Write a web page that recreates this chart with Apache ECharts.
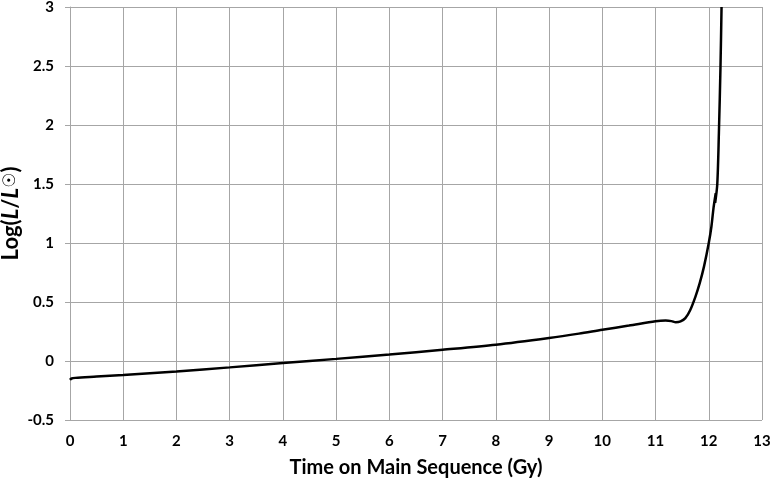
<!DOCTYPE html>
<html><head><meta charset="utf-8">
<script src="https://cdn.jsdelivr.net/npm/echarts@6/dist/echarts.min.js"></script>
<style>html,body{margin:0;padding:0;background:#fff}#c{width:773px;height:482px}</style>
</head><body><div id="c"></div>
<script>
var timeGy = [0, 0.03, 0.1, 0.5, 1, 2, 3, 4, 5, 6, 7, 8, 9, 9.56, 10, 10.5, 11, 11.19, 11.3, 11.38, 11.47, 11.56, 11.65, 11.75, 11.83, 11.91, 12.0, 12.05, 12.09, 12.13, 12.12, 12.16, 12.19, 12.22, 12.24];
var logL   = [-0.16, -0.148, -0.143, -0.132, -0.118, -0.088, -0.054, -0.017, 0.018, 0.055, 0.095, 0.138, 0.195, 0.232, 0.265, 0.30, 0.337, 0.343, 0.338, 0.328, 0.335, 0.363, 0.43, 0.546, 0.66, 0.80, 1.0, 1.14, 1.30, 1.42, 1.34, 1.50, 1.93, 2.49, 3.0];
var xTicks = {min: 0, max: 13, interval: 1};
var yTicks = {min: -0.5, max: 3, interval: 0.5};

var pts = timeGy.map(function(t, i){ return [t, logL[i]]; });
var font = 'Lato, "Open Sans", sans-serif';
var chart = echarts.init(document.getElementById('c'), null, {renderer: 'canvas'});
chart.setOption({
  animation: false,
  grid: {left: 70, right: 11, top: 7, bottom: 62, containLabel: false, outerBoundsMode: 'none'},
  xAxis: {
    type: 'value', min: xTicks.min, max: xTicks.max, interval: xTicks.interval,
    name: 'Time on Main Sequence (Gy)', nameLocation: 'middle', nameGap: 38, nameMoveOverlap: false,
    nameTextStyle: {fontFamily: font, fontWeight: 'bold', fontSize: 20, color: '#000'},
    axisLine: {show: true, lineStyle: {color: '#a6a6a6', width: 1}},
    axisTick: {show: true, length: 5, lineStyle: {color: '#a6a6a6'}},
    axisLabel: {fontFamily: font, fontWeight: 'bold', fontSize: 15, color: '#000', margin: 14},
    splitLine: {show: true, lineStyle: {color: '#a6a6a6', width: 1}}
  },
  yAxis: {
    type: 'value', min: yTicks.min, max: yTicks.max, interval: yTicks.interval,
    name: '{n|Log(}{i|L}{n|/}{i|L}{s|☉}{n|)}', nameLocation: 'middle', nameGap: 48, nameMoveOverlap: false,
    nameTextStyle: {
      fontFamily: font, fontWeight: 'bold', fontSize: 22, color: '#000',
      rich: {
        n: {fontFamily: font, fontWeight: 'bold', fontSize: 22, color: '#000'},
        i: {fontFamily: font, fontWeight: 'bold', fontStyle: 'italic', fontSize: 22, color: '#000'},
        s: {fontFamily: '"DejaVu Sans", sans-serif', fontWeight: 'bold', fontSize: 17, color: '#000'}
      }
    },
    axisLine: {show: true, lineStyle: {color: '#a6a6a6', width: 1}},
    axisTick: {show: true, length: 5, lineStyle: {color: '#a6a6a6'}},
    axisLabel: {fontFamily: font, fontWeight: 'bold', fontSize: 15, color: '#000', margin: 16,
      formatter: function(v){ return String(+v.toFixed(1)); }},
    splitLine: {show: true, lineStyle: {color: '#a6a6a6', width: 1}}
  },
  series: [{
    type: 'line', data: pts, smooth: 0.3, showSymbol: false, clip: true,
    lineStyle: {color: '#000', width: 2.5}
  }]
});
</script></body></html>
